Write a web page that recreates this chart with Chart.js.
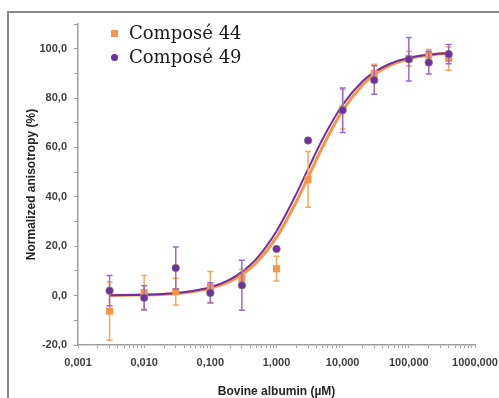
<!DOCTYPE html>
<html>
<head>
<meta charset="utf-8">
<script src="https://cdn.jsdelivr.net/npm/chart.js@4.4.1/dist/chart.umd.min.js"></script>
<style>
  html, body { margin: 0; padding: 0; background: #fff; overflow: hidden; }
  #wrap { position: relative; width: 499px; height: 398px; }
  #frame { position: absolute; left: 7px; top: 11px; width: 600px; height: 500px;
           border: 2px solid #8a8a8a; pointer-events: none; }
</style>
</head>
<body>
<div id="wrap">
  <canvas id="chart" width="499" height="398"></canvas>
  <div id="frame"></div>
</div>
<script>
// concentrations (µM)
const conc = [0.003, 0.01, 0.03, 0.1, 0.3, 1, 3, 10, 30, 100, 200, 400];

// Composé 44
const mean44 = [-6.3, 1.3, 1.6, 3.5, 7.1, 10.9, 47.1, 75.5, 90.0, 96.0, 97.4, 96.0];
const err44 = [11.8, 6.8, 5.4, 6.3, 3.5, 5.0, 11.3, 8.0, 3.7, 3.0, 2.3, 4.7];

// Composé 49
const mean49 = [2.0, -0.9, 11.2, 1.1, 4.2, 18.9, 62.8, 75.1, 87.3, 95.7, 94.4, 97.8];
const err49 = [6.1, 4.9, 8.5, 4.1, 10.1, 0.5, 1.0, 9.0, 5.8, 8.8, 4.6, 3.9];

// fitted curves
const curveX = [0.003, 0.005, 0.01, 0.02, 0.03, 0.05, 0.1, 0.2, 0.3, 0.5, 1, 2, 3, 5, 10, 20, 30, 50, 100, 200, 400];
const fit44 = [0.1, 0.15, 0.3, 0.6, 0.9, 1.5, 3.0, 5.8, 8.5, 13.4, 23.6, 38.1, 47.9, 60.4, 75.0, 85.3, 89.5, 93.0, 95.9, 97.4, 98.2];
const fit49 = [0.1, 0.2, 0.35, 0.7, 1.0, 1.75, 3.4, 6.6, 9.6, 15.0, 26.1, 41.3, 51.2, 63.5, 77.3, 86.8, 90.5, 93.7, 96.3, 97.6, 98.3];

// axis ticks
const xDecades = [0.001, 0.01, 0.1, 1, 10, 100, 1000];
const seriesNames = ['Composé 44', 'Composé 49'];

const ORANGE = '#F79646';
const PURPLE = '#7030A0';

const pts = (xs, ys) => xs.map((x, i) => ({ x, y: ys[i] }));

const xTicks = [];
xDecades.forEach((d, i) => {
  if (i === xDecades.length - 1) { xTicks.push(d); return; }
  for (let m = 1; m <= 9; m++) xTicks.push(m * d);
});

const errorBars = {
  id: 'errorBars',
  beforeDatasetDraw(chart, args) {
    const ds = chart.data.datasets[args.index];
    if (!ds.errors) return;
    const { ctx, scales: { x, y } } = chart;
    ctx.save();
    ctx.strokeStyle = ds.errorColor;
    ctx.lineWidth = 1.5;
    ds.data.forEach((p, i) => {
      const px = x.getPixelForValue(p.x);
      const top = y.getPixelForValue(p.y + ds.errors[i]);
      const bot = y.getPixelForValue(p.y - ds.errors[i]);
      ctx.beginPath();
      ctx.moveTo(px, top); ctx.lineTo(px, bot);
      ctx.moveTo(px - 3, top); ctx.lineTo(px + 3, top);
      ctx.moveTo(px - 3, bot); ctx.lineTo(px + 3, bot);
      ctx.stroke();
    });
    ctx.restore();
  }
};

const legendBox = {
  id: 'legendBox',
  afterDraw(chart) {
    const ctx = chart.ctx;
    ctx.save();
    ctx.font = '18px "DejaVu Serif"';
    ctx.textBaseline = 'middle';
    ctx.fillStyle = ORANGE;
    ctx.fillRect(111, 30, 7, 7);
    ctx.fillStyle = PURPLE;
    ctx.beginPath();
    ctx.arc(114.5, 57.5, 3.5, 0, Math.PI * 2);
    ctx.fill();
    ctx.fillStyle = '#1a1a1a';
    ctx.fillText(seriesNames[0], 129, 34);
    ctx.fillText(seriesNames[1], 129, 58);
    ctx.restore();
  }
};

new Chart(document.getElementById('chart'), {
  type: 'line',
  data: {
    datasets: [
      {
        label: seriesNames[0] + ' fit',
        data: pts(curveX, fit44),
        borderColor: ORANGE,
        borderWidth: 3,
        pointRadius: 0,
        cubicInterpolationMode: 'monotone',
        order: 4
      },
      {
        label: seriesNames[1] + ' fit',
        data: pts(curveX, fit49),
        borderColor: PURPLE,
        borderWidth: 2,
        pointRadius: 0,
        cubicInterpolationMode: 'monotone',
        order: 3
      },
      {
        label: seriesNames[0],
        data: pts(conc, mean44),
        errors: err44,
        errorColor: '#F9A65A',
        showLine: false,
        pointStyle: 'rect',
        pointRadius: 5,
        backgroundColor: ORANGE,
        borderColor: ORANGE,
        borderWidth: 0,
        order: 2
      },
      {
        label: seriesNames[1],
        data: pts(conc, mean49),
        errors: err49,
        errorColor: '#9B6BC9',
        showLine: false,
        pointStyle: 'circle',
        pointRadius: 3.8,
        backgroundColor: PURPLE,
        borderColor: 'rgba(125,135,110,0.7)',
        borderWidth: 1,
        order: 1
      }
    ]
  },
  options: {
    responsive: false,
    animation: false,
    layout: { padding: { left: 0, right: 24, top: 24, bottom: 0 } },
    plugins: {
      legend: { display: false },
      tooltip: { enabled: false }
    },
    scales: {
      x: {
        type: 'logarithmic',
        min: 0.001,
        max: 1000,
        afterBuildTicks: (scale) => { scale.ticks = xTicks.map(v => ({ value: v })); },
        afterFit: (scale) => {
          scale.height = 53;
          scale.paddingLeft = 0;
          scale.paddingRight = 0;
        },
        border: { color: '#a0a0a0', width: 1.5 },
        grid: { drawOnChartArea: false, tickLength: 3, tickColor: '#a0a0a0', tickWidth: 1 },
        ticks: {
          autoSkip: false,
          maxRotation: 0,
          padding: 8,
          color: '#404040',
          font: { family: 'Liberation Sans', size: 11, weight: 'bold' },
          callback: (v) => {
            const l = Math.log10(v);
            return Math.abs(l - Math.round(l)) < 1e-9 ? v.toFixed(3).replace('.', ',') : '';
          }
        },
        title: {
          display: true,
          text: 'Bovine albumin (µM)',
          color: '#262626',
          font: { family: 'Liberation Sans', size: 12, weight: 'bold', lineHeight: 1 },
          padding: { top: 0, bottom: 0 }
        }
      },
      y: {
        min: -20,
        max: 110,
        afterFit: (scale) => { scale.width = 78; },
        border: { color: '#a0a0a0', width: 1.5 },
        grid: { drawOnChartArea: false, tickLength: 4, tickColor: '#a0a0a0', tickWidth: 1 },
        ticks: {
          stepSize: 10,
          padding: 7,
          color: '#404040',
          font: { family: 'Liberation Sans', size: 11, weight: 'bold' },
          callback: (v) => (v % 20 === 0 ? v.toFixed(1).replace('.', ',') : '')
        },
        title: {
          display: true,
          text: 'Normalized anisotropy (%)',
          color: '#262626',
          font: { family: 'Liberation Sans', size: 12, weight: 'bold', lineHeight: 1 },
          padding: { top: 26, bottom: 0 }
        }
      }
    }
  },
  plugins: [errorBars, legendBox]
});
</script>
</body>
</html>
